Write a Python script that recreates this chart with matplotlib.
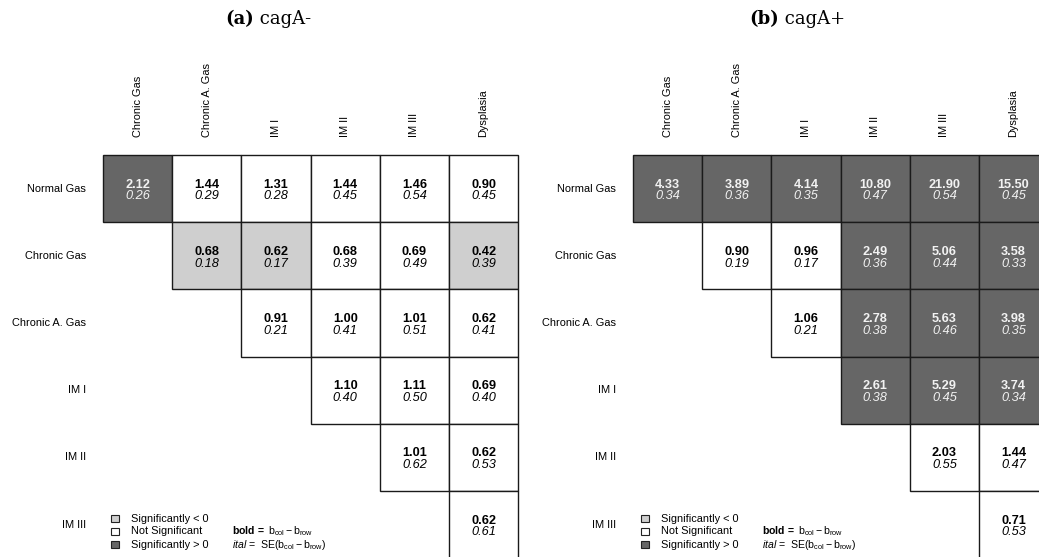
import matplotlib
matplotlib.use("Agg")
import matplotlib.pyplot as plt
from matplotlib.patches import Rectangle

plt.rcParams['font.family'] = ['Liberation Sans', 'DejaVu Sans']
plt.rcParams['mathtext.fontset'] = 'custom'
plt.rcParams['mathtext.rm'] = 'Liberation Sans'
plt.rcParams['mathtext.it'] = 'Liberation Sans:italic'
plt.rcParams['mathtext.bf'] = 'Liberation Sans:bold'

row_labels = ["Normal Gas", "Chronic Gas", "Chronic A. Gas", "IM I", "IM II", "IM III"]
col_labels = ["Chronic Gas", "Chronic A. Gas", "IM I", "IM II", "IM III", "Dysplasia"]

# cagA- : upper-triangular values (row i, cols i..5)
neg_diff = [
    [2.12, 1.44, 1.31, 1.44, 1.46, 0.90],
    [0.68, 0.62, 0.68, 0.69, 0.42],
    [0.91, 1.00, 1.01, 0.62],
    [1.10, 1.11, 0.69],
    [1.01, 0.62],
    [0.62],
]
neg_se = [
    [0.26, 0.29, 0.28, 0.45, 0.54, 0.45],
    [0.18, 0.17, 0.39, 0.49, 0.39],
    [0.21, 0.41, 0.51, 0.41],
    [0.40, 0.50, 0.40],
    [0.62, 0.53],
    [0.61],
]
neg_sig = [
    [1, 0, 0, 0, 0, 0],
    [-1, -1, 0, 0, -1],
    [0, 0, 0, 0],
    [0, 0, 0],
    [0, 0],
    [0],
]

# cagA+
pos_diff = [
    [4.33, 3.89, 4.14, 10.80, 21.90, 15.50],
    [0.90, 0.96, 2.49, 5.06, 3.58],
    [1.06, 2.78, 5.63, 3.98],
    [2.61, 5.29, 3.74],
    [2.03, 1.44],
    [0.71],
]
pos_se = [
    [0.34, 0.36, 0.35, 0.47, 0.54, 0.45],
    [0.19, 0.17, 0.36, 0.44, 0.33],
    [0.21, 0.38, 0.46, 0.35],
    [0.38, 0.45, 0.34],
    [0.55, 0.47],
    [0.53],
]
pos_sig = [
    [1, 1, 1, 1, 1, 1],
    [0, 0, 1, 1, 1],
    [0, 1, 1, 1],
    [1, 1, 1],
    [0, 0],
    [0],
]

W, H = 1039, 557
fig = plt.figure(figsize=(W / 100, H / 100), dpi=100)

fill = {-1: "#cfcfcf", 0: "#ffffff", 1: "#666666"}
txtc = {-1: "black", 0: "black", 1: "#f2f2f2"}
CW, CH = 69.2, 67.2   # pixel size of a cell
TOP = 155
FS_CELL = 9.2
FS_LAB = 7.9


def panel(left_px, title_bold, title_rest, title_x, diff, se, sig):
    ax = fig.add_axes([left_px / W, (H - (TOP + 6 * CH)) / H, 6 * CW / W, 6 * CH / H])
    ax.set_xlim(0, 6)
    ax.set_ylim(6, 0)
    ax.axis("off")
    for i in range(6):
        for k, (d, s, g) in enumerate(zip(diff[i], se[i], sig[i])):
            j = i + k
            ax.add_patch(Rectangle((j, i), 1, 1, facecolor=fill[g],
                                   edgecolor="#1a1a1a", linewidth=1.0,
                                   clip_on=False))
            ax.text(j + 0.5, i + 0.5 - 1.0 / CH, f"{d:.2f}", ha="center",
                    va="baseline", fontsize=FS_CELL, fontweight="bold",
                    color=txtc[g], clip_on=False)
            ax.text(j + 0.5, i + 0.5 + 10.8 / CH, f"{s:.2f}", ha="center",
                    va="baseline", fontsize=FS_CELL, fontstyle="italic",
                    color=txtc[g], clip_on=False)
    for j, lab in enumerate(col_labels):
        ax.text(j + 0.5, -18 / CH, lab, rotation=90, ha="center", va="bottom",
                fontsize=FS_LAB, clip_on=False)
    for i, lab in enumerate(row_labels):
        ax.text(-17 / CW, i + 0.5, lab, ha="right", va="center",
                fontsize=FS_LAB, clip_on=False)
    # legend
    leg = [(-1, "Significantly < 0"), (0, "Not Significant"), (1, "Significantly > 0")]
    ys = [518.5, 531.5, 544.5]
    for (g, lab), y in zip(leg, ys):
        yd = (y - TOP) / CH
        sx, sy = 7.5 / CW, 7.5 / CH
        ax.add_patch(Rectangle((12 / CW - sx / 2, yd - sy / 2), sx, sy,
                               facecolor=fill[g], edgecolor="#222222",
                               linewidth=0.8, clip_on=False))
        ax.text(28 / CW, yd, lab, ha="left", va="center", fontsize=FS_LAB,
                clip_on=False)
    ax.text(129 / CW, (531.5 - TOP) / CH,
            r"$\mathbf{bold}\,\mathbf{=}$ b$_{\mathrm{col}}-$b$_{\mathrm{row}}$",
            ha="left", va="center", fontsize=7.6, clip_on=False)
    ax.text(129 / CW, (545 - TOP) / CH,
            r"$\mathit{ital}$ =  SE$($b$_{\mathrm{col}}-$b$_{\mathrm{row}})$",
            ha="left", va="center", fontsize=7.6, clip_on=False)
    fig.text(title_x / W, 1 - 19 / H, title_bold, ha="right", va="center",
             fontsize=13, fontweight="bold", family="DejaVu Serif")
    fig.text(title_x / W, 1 - 19 / H, " " + title_rest, ha="left", va="center",
             fontsize=13, family="DejaVu Serif")
    return ax


panel(103, "(a)", "cagA-", 254, neg_diff, neg_se, neg_sig)
panel(633, "(b)", "cagA+", 779, pos_diff, pos_se, pos_sig)

fig.savefig("out.png", dpi=100)
